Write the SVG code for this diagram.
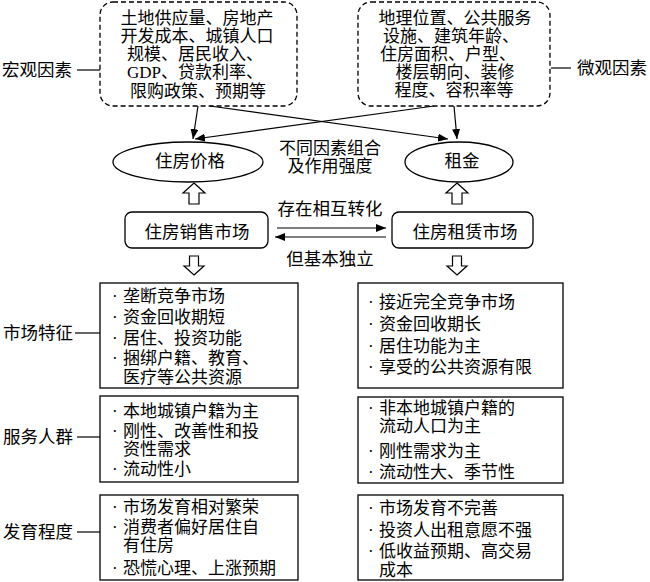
<svg xmlns="http://www.w3.org/2000/svg" width="650" height="582" viewBox="0 0 650 582">
<style>
text{font-family:"Liberation Serif","Noto Sans CJK SC",serif;font-size:17.5px;fill:#000}
.t{font-size:17px}
.c{text-anchor:middle}
.dash{fill:#fff;stroke:#000;stroke-width:1.3;stroke-dasharray:5,3}
.box{fill:#fff;stroke:#000;stroke-width:1.3}
.ln{stroke:#000;stroke-width:1.2;fill:none}
.hol{fill:#fff;stroke:#000;stroke-width:1.2}
</style>
<defs>
<marker id="ah" viewBox="0 0 10 8" refX="10" refY="4" markerWidth="10" markerHeight="8" markerUnits="userSpaceOnUse" orient="auto">
<path d="M0,0 L10,4 L0,8 Z" fill="#000"/>
</marker>
</defs>
<rect width="650" height="582" fill="#fff"/>

<g id="macro">
<rect class="dash" x="100" y="2" width="197" height="104" rx="13"/>
<text class="c t" x="197" y="24">土地供应量、房地产</text>
<text class="c t" x="197" y="42">开发成本、城镇人口</text>
<text class="c t" x="195" y="60">规模、居民收入、</text>
<text class="c t" x="195" y="78">GDP、贷款利率、</text>
<text class="c t" x="198" y="97">限购政策、预期等</text>
</g>
<g id="macro-label">
<text x="2" y="76">宏观因素</text>
<line class="ln" x1="77" y1="70" x2="100" y2="70"/>
</g>

<g id="micro">
<rect class="dash" x="358" y="2" width="192" height="104" rx="13"/>
<text class="c t" x="455" y="24">地理位置、公共服务</text>
<text class="c t" x="451" y="42">设施、建筑年龄、</text>
<text class="c t" x="448" y="60">住房面积、户型、</text>
<text class="c t" x="455" y="78">楼层朝向、装修</text>
<text class="c t" x="454" y="96">程度、容积率等</text>
</g>
<g id="micro-label">
<line class="ln" x1="551" y1="68" x2="571" y2="68"/>
<text x="577" y="74">微观因素</text>
</g>

<g id="price">
<ellipse class="box" cx="188" cy="162" rx="75" ry="20"/>
<text class="c" x="190" y="167">住房价格</text>
</g>
<g id="rent">
<ellipse class="box" cx="459" cy="162" rx="54" ry="20"/>
<text class="c" x="462" y="167">租金</text>
</g>
<g id="combo-label">
<text class="c t" x="330" y="154">不同因素组合</text>
<text class="c t" x="330" y="172">及作用强度</text>
</g>

<g id="sale">
<rect class="box" x="125" y="212" width="143" height="36" rx="7"/>
<text class="c" x="197" y="238">住房销售市场</text>
</g>
<g id="lease">
<rect class="box" x="392" y="212" width="141" height="36" rx="7"/>
<text class="c" x="465" y="238">住房租赁市场</text>
</g>
<g id="conv-label">
<text class="c" x="330" y="215">存在相互转化</text>
<text class="c" x="330" y="265">但基本独立</text>
</g>

<g id="connectors">
<line class="ln" x1="198" y1="106" x2="193" y2="139" marker-end="url(#ah)"/>
<line class="ln" x1="210" y1="106" x2="448" y2="139" marker-end="url(#ah)"/>
<line class="ln" x1="434" y1="106" x2="195" y2="139" marker-end="url(#ah)"/>
<line class="ln" x1="454" y1="106" x2="457" y2="139" marker-end="url(#ah)"/>
<line class="ln" x1="277" y1="228" x2="386" y2="228" marker-end="url(#ah)"/>
<line class="ln" x1="386" y1="237" x2="275" y2="237" marker-end="url(#ah)"/>
<path class="hol" d="M194,183 L205,193 L199,193 L199,204 L189,204 L189,193 L183,193 Z"/>
<path class="hol" d="M457,183 L468,193 L462,193 L462,204 L452,204 L452,193 L446,193 Z"/>
<path class="hol" d="M194,275 L204,266 L198.5,266 L198.5,256 L189.5,256 L189.5,266 L184,266 Z"/>
<path class="hol" d="M457,275 L467,266 L461.5,266 L461.5,256 L452.5,256 L452.5,266 L447,266 Z"/>
<line class="ln" x1="75" y1="333" x2="100" y2="333"/>
<line class="ln" x1="77" y1="437" x2="100" y2="437"/>
<line class="ln" x1="77" y1="532" x2="100" y2="532"/>
</g>

<g id="label-market">
<text x="3" y="339">市场特征</text>
</g>
<g id="label-people">
<text x="3" y="443">服务人群</text>
</g>
<g id="label-dev">
<text x="3" y="538">发育程度</text>
</g>

<g id="sale-feature">
<rect class="box" x="100" y="283" width="198" height="105"/>
<text class="t" x="112" y="302">·</text><text class="t" x="123" y="302">垄断竞争市场</text>
<text class="t" x="112" y="323">·</text><text class="t" x="123" y="323">资金回收期短</text>
<text class="t" x="112" y="344">·</text><text class="t" x="123" y="344">居住、投资功能</text>
<text class="t" x="112" y="364">·</text><text class="t" x="123" y="364">捆绑户籍、教育、</text>
<text class="t" x="123" y="383">医疗等公共资源</text>
</g>
<g id="lease-feature">
<rect class="box" x="358" y="283" width="205" height="105"/>
<text class="t" x="368" y="308">·</text><text class="t" x="379" y="308">接近完全竞争市场</text>
<text class="t" x="368" y="330">·</text><text class="t" x="379" y="330">资金回收期长</text>
<text class="t" x="368" y="352">·</text><text class="t" x="379" y="352">居住功能为主</text>
<text class="t" x="368" y="373">·</text><text class="t" x="379" y="373">享受的公共资源有限</text>
</g>

<g id="sale-people">
<rect class="box" x="100" y="396" width="198" height="86"/>
<text class="t" x="112" y="417">·</text><text class="t" x="123" y="417">本地城镇户籍为主</text>
<text class="t" x="112" y="437">·</text><text class="t" x="123" y="437">刚性、改善性和投</text>
<text class="t" x="123" y="455">资性需求</text>
<text class="t" x="112" y="475">·</text><text class="t" x="123" y="475">流动性小</text>
</g>
<g id="lease-people">
<rect class="box" x="358" y="397" width="205" height="86"/>
<text class="t" x="368" y="414">·</text><text class="t" x="379" y="414">非本地城镇户籍的</text>
<text class="t" x="379" y="432">流动人口为主</text>
<text class="t" x="368" y="457">·</text><text class="t" x="379" y="457">刚性需求为主</text>
<text class="t" x="368" y="478">·</text><text class="t" x="379" y="478">流动性大、季节性</text>
</g>

<g id="sale-dev">
<rect class="box" x="100" y="495" width="198" height="85"/>
<text class="t" x="112" y="513">·</text><text class="t" x="123" y="513">市场发育相对繁荣</text>
<text class="t" x="112" y="533">·</text><text class="t" x="123" y="533">消费者偏好居住自</text>
<text class="t" x="123" y="551">有住房</text>
<text class="t" x="112" y="574">·</text><text class="t" x="123" y="574">恐慌心理、上涨预期</text>
</g>
<g id="lease-dev">
<rect class="box" x="358" y="495" width="205" height="85"/>
<text class="t" x="368" y="514">·</text><text class="t" x="379" y="514">市场发育不完善</text>
<text class="t" x="368" y="536">·</text><text class="t" x="379" y="536">投资人出租意愿不强</text>
<text class="t" x="368" y="557">·</text><text class="t" x="379" y="557">低收益预期、高交易</text>
<text class="t" x="379" y="576">成本</text>
</g>
</svg>
